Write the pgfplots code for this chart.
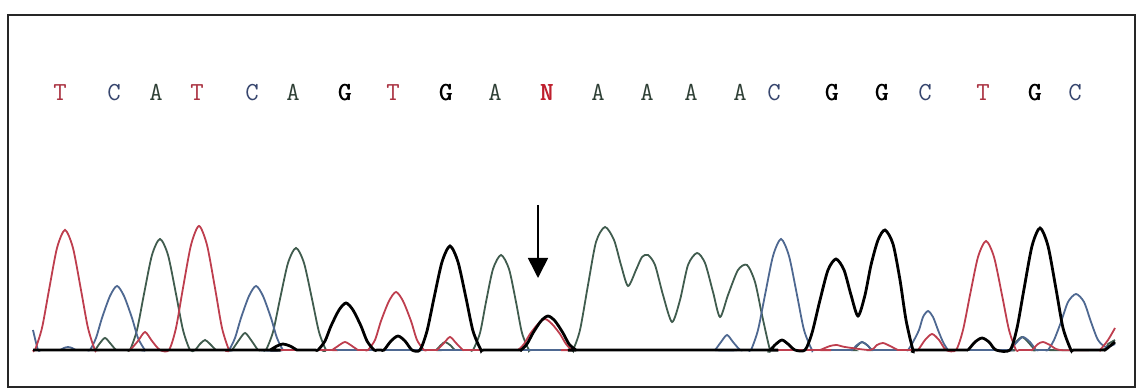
\documentclass[border=0pt]{standalone}
\usepackage{pgfplots}
\pgfplotsset{compat=1.18}
\usetikzlibrary{arrows.meta}
\definecolor{tred}{RGB}{190,62,78}
\definecolor{cblue}{RGB}{78,104,145}
\definecolor{agreen}{RGB}{64,92,78}
\definecolor{tlet}{RGB}{170,50,65}
\definecolor{clet}{RGB}{55,70,110}
\definecolor{alet}{RGB}{45,62,52}
\definecolor{nlet}{RGB}{190,30,45}
\newcommand{\fb}[1]{\rlap{#1}\kern0.35pt#1}
\begin{document}
\begin{tikzpicture}
\begin{axis}[
  scale only axis, width=563.5pt, height=186pt,
  xmin=8, xmax=1135, ymin=-37, ymax=335,
  xtick=\empty, ytick=\empty,
  axis line style={line width=1.1pt, black!85},
  every axis plot/.append style={smooth, tension=0.45, no marks},
  clip=true,
]
% A (green)
\addplot[agreen, line width=0.9pt] coordinates {
(33,0)(92,0)(95,0)(100,7)(105,12)(110,7)(116,0)(119,0)
(127,0)(130,0)(137,20)(144,56)(152,95)(160,111)(168,95)(176,56)(183,20)(190,0)
(195,0)(200,6)(205,10)(210,6)(216,0)(219,0)
(229,0)(232,0)(239,10)(245,17)(251,10)(258,0)(261,0)
(263,0)(266,0)(273,18)(280,51)(288,87)(296,102)(304,87)(312,51)(319,18)(326,0)(329,0)
(433,0)(436,0)(441,5)(445,8)(450,5)(455,0)(458,0)
(470,0)(473,0)(480,17)(486,48)(493,81)(501,95)(509,81)(516,48)(522,17)(529,0)(532,0)
(570,0)(573,0)(580,20)(588,65)(596,108)(605,123)(614,110)(621,85)(628,64)(636,80)(642,93)(648,95)(655,85)(663,55)(672,28)(680,50)(688,85)(697,97)(705,87)(713,58)(720,33)(728,55)(738,80)(747,85)(755,68)(762,35)(770,0)(773,0)
(850,0)(853,0)(858,5)(862,8)(867,5)(872,0)(875,0)
(1007,0)(1010,0)(1016,8)(1022,13)(1028,8)(1035,0)(1038,0)
(1100,0)(1108,6)(1115,10)};
% C (blue)
\addplot[cblue, line width=0.9pt] coordinates {
(33,20)(38,0)(41,0)(57,0)(60,0)(64,2)(68,3)(72,2)(76,0)(79,0)
(87,0)(90,0)(96,12)(102,32)(110,54)(117,64)(124,54)(132,32)(138,12)(145,0)(148,0)
(226,0)(229,0)(235,12)(241,32)(249,54)(256,64)(263,54)(271,32)(277,12)(283,0)(286,0)
(712,0)(715,0)(721,8)(727,15)(733,8)(740,0)(743,0)
(748,0)(751,0)(758,20)(765,55)(773,94)(781,111)(789,94)(797,55)(804,20)(812,0)(815,0)
(849,0)(852,0)(857,5)(862,8)(867,5)(872,0)(875,0)
(905,0)(908,0)(913,8)(919,20)(923,33)(928,39)(933,33)(938,20)(943,8)(948,0)(951,0)
(1007,0)(1010,0)(1017,8)(1023,13)(1030,8)(1036,0)(1039,0)
(1045,0)(1048,0)(1054,10)(1061,28)(1068,48)(1076,56)(1084,48)(1091,28)(1098,10)(1106,3)(1115,6)};
% T (red)
\addplot[tred, line width=0.9pt] coordinates {
(33,0)(35,0)(42,22)(49,60)(57,102)(65,120)(73,102)(81,60)(88,22)(95,0)(98,0)
(127,0)(130,0)(138,9)(145,18)(152,9)(160,0)
(169,0)(176,22)(183,62)(191,105)(199,124)(207,105)(215,62)(222,22)(229,0)(232,0)
(329,0)(332,0)(338,4)(345,8)(352,4)(358,0)(361,0)
(365,0)(368,0)(375,10)(381,29)(389,49)(396,58)(403,49)(411,29)(417,10)(424,0)(427,0)
(434,0)(437,0)(444,7)(450,13)(456,7)(463,0)(466,0)
(515,0)(518,0)(524,6)(530,16)(538,26)(545,31)(552,26)(560,16)(566,6)(572,0)(575,0)
(817,0)(820,0)(830,4)(837,5)(845,3)(870,0)(877,5)(883,7)(890,4)(898,0)(901,0)
(915,0)(918,0)(925,10)(932,16)(939,10)(946,0)
(956,0)(963,20)(970,55)(978,93)(986,109)(994,93)(1002,55)(1009,20)(1016,0)(1019,0)
(1029,0)(1032,0)(1038,6)(1043,8)(1050,5)(1060,0)(1097,0)(1100,0)(1108,10)(1115,22)};
% G (black)
\addplot[black, line width=1.4pt] coordinates {
(33,0)(267,0)(270,0)(277,4)(283,6)(290,4)(297,0)(300,0)
(315,0)(318,0)(325,9)(331,24)(339,40)(346,47)(353,40)(361,24)(367,9)(374,0)(377,0)
(381,0)(384,0)(391,9)(398,14)(405,9)(412,0)
(420,0)(427,19)(434,52)(442,88)(450,104)(458,88)(466,52)(473,19)(481,0)(484,0)
(518,0)(521,0)(527,6)(533,17)(541,29)(548,34)(555,29)(563,17)(569,6)(576,0)(579,0)
(767,0)(770,0)(776,6)(782,10)(788,6)(795,0)
(805,0)(812,17)(820,50)(828,80)(836,91)(844,80)(851,55)(858,34)(865,55)(871,85)(878,110)(885,120)(893,106)(900,70)(906,30)(913,0)(916,0)
(965,0)(968,0)(975,8)(982,12)(989,8)(996,0)
(1010,0)(1017,22)(1024,61)(1032,104)(1040,122)(1048,104)(1056,61)(1063,22)(1071,0)(1074,0)
(1102,0)(1105,0)(1110,4)(1115,8)};
% base letters
\begin{scope}[every node/.style={anchor=base, font=\ttfamily\fontsize{13}{15}\selectfont, inner sep=0pt}]
\node[text=tlet] at (axis cs:60,249) {T};
\node[text=clet] at (axis cs:114,249) {C};
\node[text=alet] at (axis cs:156,249) {A};
\node[text=tlet] at (axis cs:197,249) {T};
\node[text=clet] at (axis cs:252,249) {C};
\node[text=alet] at (axis cs:293,249) {A};
\node[text=black] at (axis cs:345,249) {\fb{G}};
\node[text=tlet] at (axis cs:393,249) {T};
\node[text=black] at (axis cs:446,249) {\fb{G}};
\node[text=alet] at (axis cs:495,249) {A};
\node[text=nlet] at (axis cs:547,249) {\fb{N}};
\node[text=alet] at (axis cs:598,249) {A};
\node[text=alet] at (axis cs:647,249) {A};
\node[text=alet] at (axis cs:691,249) {A};
\node[text=alet] at (axis cs:740,249) {A};
\node[text=clet] at (axis cs:774,249) {C};
\node[text=black] at (axis cs:832,249) {\fb{G}};
\node[text=black] at (axis cs:882,249) {\fb{G}};
\node[text=clet] at (axis cs:925,249) {C};
\node[text=tlet] at (axis cs:983,249) {T};
\node[text=black] at (axis cs:1035,249) {\fb{G}};
\node[text=clet] at (axis cs:1075,249) {C};
\end{scope}
\draw[line width=0.8pt, -{Triangle[width=10pt,length=10pt]}] (axis cs:538,145) -- (axis cs:538,72);
\end{axis}
\path ([shift={(-4pt,-1.5pt)}]current axis.south west) rectangle ([shift={(2pt,7.5pt)}]current axis.north east);
\end{tikzpicture}
\end{document}
